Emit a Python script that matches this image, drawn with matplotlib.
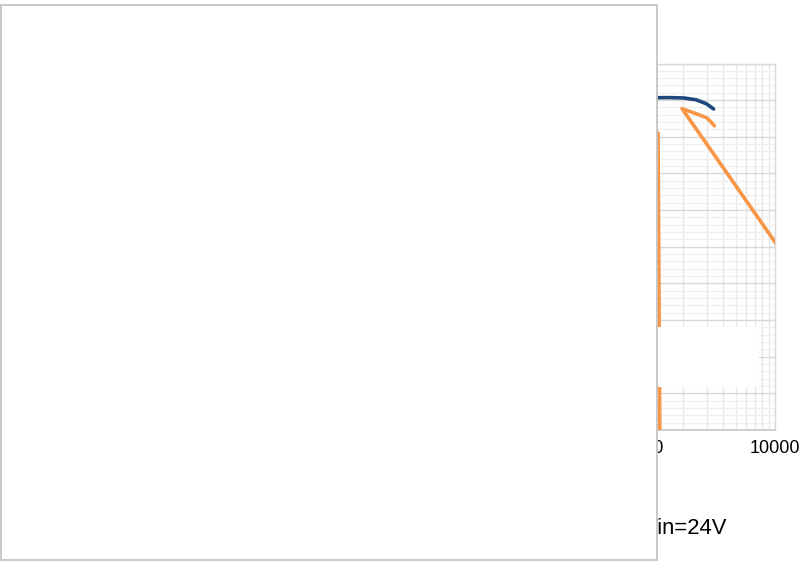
import numpy as np
import matplotlib
matplotlib.use("Agg")
import matplotlib.pyplot as plt
from matplotlib.patches import Rectangle
from matplotlib.ticker import (FixedLocator, FixedFormatter, LogLocator,
                               MultipleLocator, NullFormatter)

plt.rcParams['font.family'] = ['Liberation Sans', 'DejaVu Sans']

# Load current (mA) and efficiency (%) for the two output settings
load_5v = [1, 2, 5, 10, 20, 50, 100, 200, 500, 1000, 1500, 2000, 2500, 3000, 3400]
eff_5v = [40, 55, 68, 76, 82, 86, 88, 89.5, 90.3, 90.6, 90.7, 90.6, 90.1, 89.0, 87.6]

load_33v = [1, 2, 5, 10, 20, 50, 100, 200, 500, 1000, 1280, 1320, np.nan,
            100000, 1950, 2500, 3000, 3200, 3450]
eff_33v = [30, 42, 57, 66, 73, 79, 82, 84, 85, 84, 81, 0, np.nan,
           0, 87.7, 86.3, 85.2, 84.3, 83.0]

series_labels = ['Vout=5V', 'Vout=3.3V']
series_colors = ['#1F497D', '#F79646']

x_ticks = [1, 10, 100, 1000, 10000]
x_tick_labels = ['1', '10', '100', '1000', '10000']
y_ticks = list(range(0, 101, 10))
y_tick_labels = [f'{v}%' for v in y_ticks]
condition_text = 'Vin=24V'

W, H = 803, 561
fig = plt.figure(figsize=(W / 100, H / 100), dpi=100)
fig.patch.set_facecolor('white')

ax = fig.add_axes([251 / W, 131 / H, 524 / W, 366.5 / H])
ax.set_xscale('log')
ax.set_xlim(1, 10000)
ax.set_ylim(0, 100)

ax.xaxis.set_major_locator(FixedLocator(x_ticks))
ax.xaxis.set_major_formatter(FixedFormatter(x_tick_labels))
ax.xaxis.set_minor_locator(LogLocator(base=10, subs=np.arange(2, 10)))
ax.xaxis.set_minor_formatter(NullFormatter())
ax.yaxis.set_major_locator(FixedLocator(y_ticks))
ax.yaxis.set_major_formatter(FixedFormatter(y_tick_labels))
ax.yaxis.set_minor_locator(MultipleLocator(2))

ax.tick_params(which='both', length=0, labelsize=13, colors='black', pad=7)

ax.set_axisbelow(True)
ax.grid(which='major', axis='y', color='#d9d9d9', lw=1.0)
ax.grid(which='minor', axis='y', color='#f0f0f0', lw=1.0)
ax.grid(which='major', axis='x', color='#e3e3e3', lw=1.0)
ax.grid(which='minor', axis='x', color='#e9e9e9', lw=1.0)

for side in ['top', 'right']:
    ax.spines[side].set_color('#d9d9d9')
    ax.spines[side].set_linewidth(1.0)
for side in ['bottom', 'left']:
    ax.spines[side].set_color('#c8c8c8')
    ax.spines[side].set_linewidth(1.2)

l1, = ax.plot(load_5v, eff_5v, color=series_colors[0], lw=2.6,
              solid_capstyle='round', solid_joinstyle='round', zorder=3)
l2, = ax.plot(load_33v, eff_33v, color=series_colors[1], lw=2.6,
              solid_capstyle='round', solid_joinstyle='round', zorder=3)

leg = ax.legend([l1, l2], series_labels, loc='upper left',
                bbox_to_anchor=(0.2844, 0.0, 0.6851, 0.281), mode='expand',
                borderaxespad=0, fontsize=13, frameon=True, fancybox=False,
                framealpha=1, labelspacing=0.55, borderpad=0.45)
leg.get_frame().set_facecolor('white')
leg.get_frame().set_edgecolor('none')

fig.text(727 / W, (H - 534) / H, condition_text, ha='right', va='baseline',
         fontsize=15.8, color='black')

# Blank panel laid over the left part of the figure
panel = Rectangle((0.5 / W, 1.5 / H), 656 / W, 555 / H, transform=fig.transFigure,
                  facecolor='white', edgecolor='#c4c4c4', lw=1.3, zorder=10)
fig.add_artist(panel)

fig.savefig('out.png', dpi=100, facecolor='white')
